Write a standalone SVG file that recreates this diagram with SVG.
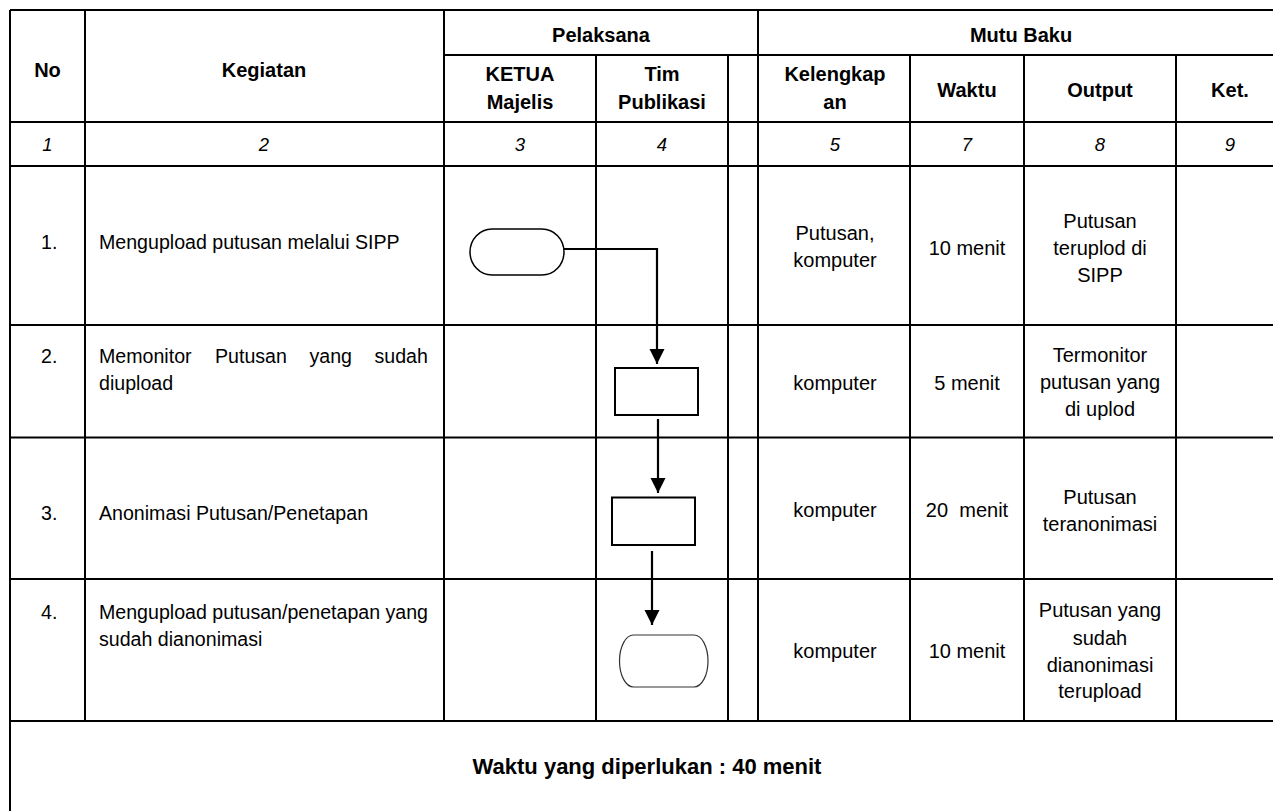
<svg xmlns="http://www.w3.org/2000/svg" width="1273" height="811" viewBox="0 0 1273 811">
<defs>
<style>
.grid{stroke:#000;stroke-width:2;fill:none}
text{font-family:"Liberation Sans",Arial,sans-serif;fill:#000}
.h{font-size:20px;font-weight:bold;text-anchor:middle}
.n{font-size:18.5px;font-style:italic;text-anchor:middle}
.b{font-size:19.6px}
.c{font-size:20px;text-anchor:middle}
.f{font-size:22px;font-weight:bold;text-anchor:middle}
.term{fill:#fff;stroke:#000;stroke-width:1.5}
.proc{fill:#fff;stroke:#000;stroke-width:2}
.conn{fill:none;stroke:#000;stroke-width:2.2}
</style>
<marker id="arr" markerUnits="userSpaceOnUse" markerWidth="16" markerHeight="16" refX="15" refY="7.5" orient="auto">
<path d="M0,0 L15,7.5 L0,15 z" fill="#000"/>
</marker>
</defs>
<rect width="1273" height="811" fill="#fff"/>
<g id="table" class="grid">
<path d="M10,10 H1284 M444,55 H1284 M10,122 H1284 M10,166 H1284 M10,325 H1284 M10,437.5 H1284 M10,579 H1284 M10,721 H1284"/>
<path d="M10,10 V811 M85,10 V721 M444,10 V721 M596,55 V721 M728,55 V721 M758,10 V721 M910,55 V721 M1024,55 V721 M1176,55 V721 M1284,10 V811"/>
</g>
<g id="header">
<text class="h" x="47.5" y="77">No</text>
<text class="h" x="264" y="77">Kegiatan</text>
<text class="h" x="601" y="42">Pelaksana</text>
<text class="h" x="1021" y="42">Mutu Baku</text>
<text class="h" x="520" y="81">KETUA</text>
<text class="h" x="520" y="109">Majelis</text>
<text class="h" x="662" y="81">Tim</text>
<text class="h" x="662" y="109">Publikasi</text>
<text class="h" x="835" y="81">Kelengkap</text>
<text class="h" x="835" y="109">an</text>
<text class="h" x="967" y="97">Waktu</text>
<text class="h" x="1100" y="97">Output</text>
<text class="h" x="1230" y="97">Ket.</text>
<text class="n" x="47.5" y="151">1</text>
<text class="n" x="264" y="151">2</text>
<text class="n" x="520" y="151">3</text>
<text class="n" x="662" y="151">4</text>
<text class="n" x="835" y="151">5</text>
<text class="n" x="967" y="151">7</text>
<text class="n" x="1100" y="151">8</text>
<text class="n" x="1230" y="151">9</text>
</g>
<g id="row1">
<text class="b" x="41" y="249">1.</text>
<text class="b" x="99" y="249">Mengupload putusan melalui SIPP</text>
<text class="c" x="835" y="240">Putusan,</text>
<text class="c" x="835" y="267">komputer</text>
<text class="c" x="967" y="255">10 menit</text>
<text class="c" x="1100" y="228">Putusan</text>
<text class="c" x="1100" y="255">teruplod di</text>
<text class="c" x="1100" y="282">SIPP</text>
</g>
<g id="row2">
<text class="b" x="41" y="363">2.</text>
<text class="b" y="363"><tspan x="99">Memonitor</tspan> <tspan x="215">Putusan</tspan> <tspan x="309.5">yang</tspan> <tspan x="374.5">sudah</tspan></text>
<text class="b" x="99" y="390">diupload</text>
<text class="c" x="835" y="390">komputer</text>
<text class="c" x="967" y="390">5 menit</text>
<text class="c" x="1100" y="362">Termonitor</text>
<text class="c" x="1100" y="389">putusan yang</text>
<text class="c" x="1100" y="416">di uplod</text>
</g>
<g id="row3">
<text class="b" x="41" y="520">3.</text>
<text class="b" x="99" y="520">Anonimasi Putusan/Penetapan</text>
<text class="c" x="835" y="517">komputer</text>
<text class="c" x="967" y="517" xml:space="preserve">20  menit</text>
<text class="c" x="1100" y="504">Putusan</text>
<text class="c" x="1100" y="531">teranonimasi</text>
</g>
<g id="row4">
<text class="b" x="41" y="619">4.</text>
<text class="b" x="99" y="619">Mengupload putusan/penetapan yang</text>
<text class="b" x="99" y="646">sudah dianonimasi</text>
<text class="c" x="835" y="658">komputer</text>
<text class="c" x="967" y="658">10 menit</text>
<text class="c" x="1100" y="617">Putusan yang</text>
<text class="c" x="1100" y="645">sudah</text>
<text class="c" x="1100" y="672">dianonimasi</text>
<text class="c" x="1100" y="698">terupload</text>
</g>
<g id="footer">
<text class="f" x="647" y="774">Waktu yang diperlukan : 40 menit</text>
</g>
<g id="node-start">
<rect class="term" x="470" y="229" width="94" height="46" rx="22" ry="23"/>
</g>
<g id="node-monitor">
<rect class="proc" x="615" y="368" width="83" height="47"/>
</g>
<g id="node-anonim">
<rect class="proc" x="612" y="497.5" width="83" height="47.5"/>
</g>
<g id="node-end">
<rect class="term" x="619.5" y="635" width="88.5" height="52" rx="14" ry="26" style="stroke:#333;stroke-width:1.2"/>
</g>
<g id="connectors">
<path class="conn" d="M564,249 H657 V364" marker-end="url(#arr)"/>
<path class="conn" d="M658,419 V493" marker-end="url(#arr)"/>
<path class="conn" d="M652,551 V625" marker-end="url(#arr)"/>
</g>
</svg>
